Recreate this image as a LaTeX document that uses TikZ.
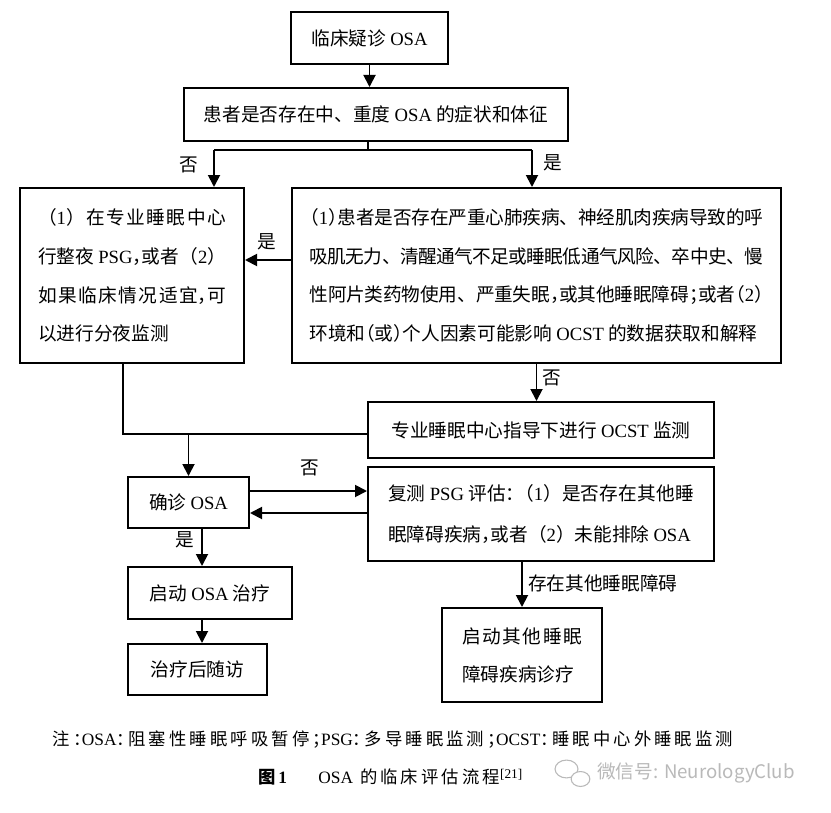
\documentclass[tikz,border=0pt]{standalone}
\usepackage{fontspec}
\setmainfont{Noto Sans CJK SC}
\newfontfamily\enfont{Liberation Serif}
\newfontfamily\halffont{Noto Sans CJK SC}[RawFeature=+halt]
\newfontfamily\notefont{Noto Sans CJK SC}[RawFeature=+halt,LetterSpace=18]
\usetikzlibrary{arrows.meta,calc,positioning}
\XeTeXlinebreaklocale "zh"
\XeTeXlinebreakskip=0pt plus 3pt minus 0.6pt
\tolerance=3000
\newcommand{\en}[1]{{\enfont #1}}
\newcommand{\hp}[1]{{\halffont #1}}
\tikzset{
  box/.style={draw, line width=1.5pt, inner sep=0pt, font=\fontsize{14}{29}\selectfont},
  para/.style={box, align=justify},
  line/.style={line width=1.4pt},
  arr/.style={line, -{Triangle[length=9pt,width=9pt]}},
  lbl/.style={inner sep=0pt, font=\fontsize{14}{14}\selectfont},
}

\begin{document}
\begin{tikzpicture}[x=0.75pt, y=-0.75pt]
        \fill[white] (0,0) rectangle (831,813);
        \useasboundingbox (0,0) rectangle (831,813);

        % boxes
        \node[box, minimum width=117.75pt, minimum height=39pt] (suspect) at (369.5,38) {临床疑诊 \en{OSA}};
        \node[box, minimum width=288pt, minimum height=39.75pt] (symptom) at (376,114.5) {患者是否存在中、重度 \en{OSA} 的症状和体征};
        \node[para, text width=141pt, minimum width=168pt, minimum height=131.25pt] (psg) at (132,275.5)
            {（\en{1}）在专业睡眠中心\linebreak 行整夜 \en{PSG}\hp{，}或者（\en{2}）\linebreak 如果临床情况适宜\hp{，}可\linebreak 以进行分夜监测};
        \node[para, text width=340.5pt, minimum width=366.75pt, minimum height=131.25pt] (risk) at (536.5,275.5)
            {\parfillskip=0pt \hp{（}\en{1}\hp{）}患者是否存在严重心肺疾病、神经肌肉疾病导致的呼\linebreak
             吸肌无力、清醒通气不足或睡眠低通气风险、卒中史、慢\linebreak
             性阿片类药物使用、严重失眠\hp{，}或其他睡眠障碍\hp{；}或者\hp{（}\en{2}\hp{）}\linebreak
             环境和\hp{（}或\hp{）}个人因素可能影响 \en{OCST} 的数据获取和解释};
        \node[box, minimum width=259.5pt, minimum height=42pt] (ocst) at (541,430) {专业睡眠中心指导下进行 \en{OCST} 监测};
        \node[para, text width=229.5pt, minimum width=259.5pt, minimum height=70.5pt, font=\fontsize{14}{31}\selectfont] (retest) at (541,514)
            {\parfillskip=0pt 复测 \en{PSG} 评估\hp{：}（\en{1}）是否存在其他睡\linebreak 眠障碍疾病\hp{，}或者（\en{2}）未能排除 \en{OSA}};
        \node[box, minimum width=90.75pt, minimum height=38.25pt] (confirm) at (188.5,502.5) {确诊 \en{OSA}};
        \node[box, minimum width=123pt, minimum height=39pt] (treat) at (210,593) {启动 \en{OSA} 治疗};
        \node[box, minimum width=104.25pt, minimum height=38.25pt] (follow) at (197.5,669.5) {治疗后随访};
        \node[para, text width=90pt, minimum width=120pt, minimum height=70.5pt, font=\fontsize{14}{28.5}\selectfont] (other) at (522,655)
            {启动其他睡眠\linebreak 障碍疾病诊疗};

        % connectors
        \coordinate (split) at ($(symptom.south)+(-8,9)$);
        \coordinate (nob) at (214,150);
        \coordinate (yesb) at (532,150);
        \coordinate (join) at ($(ocst.west)+(0,4)$);
        \draw[arr] (suspect.south) -- (suspect.south |- symptom.north);
        \draw[line] (symptom.south -| split) -- (split);
        \draw[line] (nob) -- (yesb);
        \draw[arr] (nob) -- (nob |- psg.north);
        \draw[arr] (yesb) -- (yesb |- risk.north);
        \draw[arr] ($(risk.west)+(0,-15.5)$) -- ($(psg.east)+(0,-15.5)$);
        \draw[arr] (risk.south) -- (risk.south |- ocst.north);
        \draw[line] ($(psg.south)+(-9,0)$) |- (join);
        \draw[arr] (confirm.north |- join) -- (confirm.north);
        \draw[arr] ($(confirm.east)+(0,-11.5)$) -- ($(retest.west)+(0,-23)$);
        \draw[arr] ($(retest.west)+(0,-1)$) -- ($(confirm.east)+(0,10.5)$);
        \draw[arr] ($(confirm.south)+(13.5,0)$) -- ($(treat.north)+(-8,0)$);
        \draw[arr] ($(treat.south)+(-8,0)$) -- ($(follow.north)+(4.5,0)$);
        \draw[arr] (other.north |- retest.south) -- (other.north);

        % labels
        \node[lbl] (no1) at (189,165) {否};
        \node[lbl] (yes1) at (553,163) {是};
        \node[lbl] (yes2) at (267,242) {是};
        \node[lbl] (no2) at (552,378) {否};
        \node[lbl] (no3) at (310,468) {否};
        \node[lbl] (yes3) at (185,540) {是};
        \node[lbl, anchor=west] (otherlbl) at (528,583) {存在其他睡眠障碍};

        % note and caption
        \node[inner sep=0pt, font=\fontsize{13}{13}\selectfont\notefont] (note) at (393,740)
            {注：\en{OSA}：阻塞性睡眠呼吸暂停；\en{PSG}：多导睡眠监测；\en{OCST}：睡眠中心外睡眠监测};
        \node[inner sep=0pt, anchor=west, font=\fontsize{13}{13}\selectfont\notefont] (caption) at (258,777)
            {{\bfseries 图\,\en{1}}\hspace{1.8em}\en{OSA} 的临床评估流程\raisebox{4pt}{\fontsize{10}{10}\selectfont\en{[21]}}};

        % watermark
        \draw[gray!55, line width=0.8pt] (566.5,769) ellipse [x radius=8.6pt, y radius=6.7pt];
        \draw[gray!55, line width=0.8pt, fill=white] (580.5,779) ellipse [x radius=7pt, y radius=5.6pt];
        \node[inner sep=0pt, anchor=west, text=gray!55, font=\fontsize{14}{14}\selectfont] (mark) at (597,773) {微信号: NeurologyClub};
\end{tikzpicture}
\end{document}
